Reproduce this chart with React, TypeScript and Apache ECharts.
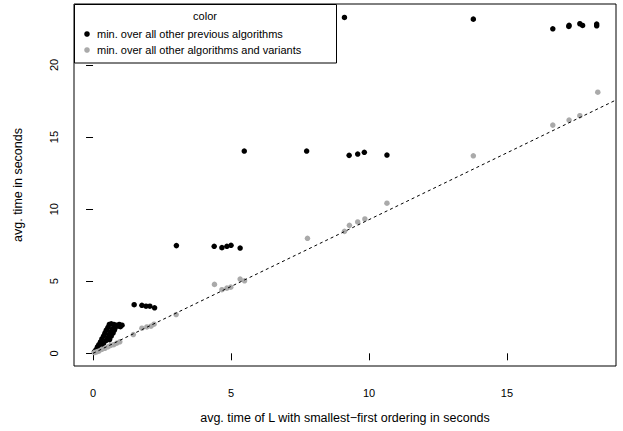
import React, { useEffect, useRef } from "react";
import * as echarts from "echarts";

// min. over all other previous algorithms (black)
const prevX = [
  9.11, 13.78, 16.66, 17.24, 17.25, 17.64, 17.74, 18.25, 18.25,
  5.48, 7.74, 9.28, 9.59, 9.83, 10.65,
  3.02, 4.39, 4.67, 4.85, 5.0, 5.33,
  1.49, 1.77, 1.92, 2.06, 2.23,
  0.05, 0.11, 0.16, 0.21, 0.27, 0.32, 0.38, 0.43, 0.48, 0.54, 0.59, 0.66, 0.75, 0.84, 0.91, 0.99,
  0.48, 0.54, 0.59, 0.64, 0.7, 0.77, 0.38, 0.32,
  0.66, 0.72, 0.8, 0.95, 1.05, 0.6,
];
const prevY = [
  23.3, 23.18, 22.51, 22.67, 22.75, 22.86, 22.74, 22.84, 22.72,
  14.03, 14.03, 13.73, 13.82, 13.94, 13.75,
  7.47, 7.42, 7.33, 7.42, 7.49, 7.3,
  3.37, 3.33, 3.27, 3.27, 3.16,
  0.1, 0.25, 0.45, 0.6, 0.8, 1.0, 1.2, 1.4, 1.6, 1.8, 2.0, 2.05, 2.0, 1.95, 1.9, 1.85,
  0.9, 1.1, 1.3, 1.5, 1.7, 1.6, 0.7, 0.5,
  1.2, 1.4, 1.75, 2.0, 1.95, 0.95,
];

// min. over all other algorithms and variants (grey)
const variantX = [
  18.29, 16.66, 17.25, 17.64, 13.78, 10.65, 7.77, 9.11, 9.29, 9.59, 9.85,
  4.4, 4.67, 4.85, 4.99, 5.33, 5.49, 3.01,
  1.46, 1.77, 1.95, 2.1, 2.21,
  0.05, 0.13, 0.21, 0.32, 0.43, 0.54, 0.64, 0.75, 0.86, 0.97,
];
const variantY = [
  18.11, 15.83, 16.18, 16.48, 13.7, 10.41, 7.98, 8.46, 8.88, 9.11, 9.32,
  4.78, 4.41, 4.52, 4.59, 5.15, 5.03, 2.69,
  1.3, 1.74, 1.83, 1.88, 2.02,
  0.05, 0.1, 0.15, 0.28, 0.35, 0.45, 0.55, 0.6, 0.7, 0.8,
];

const xTicks = [0, 5, 10, 15];
const yTicks = [0, 5, 10, 15, 20];
const refLine = [
  [0, 0],
  [18.95, 17.57],
];

const seriesNames = [
  "min. over all other previous algorithms",
  "min. over all other algorithms and variants",
];
const legendTitle = "color";
const xTitle = "avg. time of L with smallest\u2212first ordering in seconds";
const yTitle = "avg. time in seconds";

const FONT = "Liberation Sans, Arial, Helvetica, sans-serif";

export default function App() {
  const ref = useRef<HTMLDivElement>(null);
  useEffect(() => {
    const chart = echarts.init(ref.current!, null, { renderer: "svg" });
    const zip = (xs: number[], ys: number[]) => xs.map((x, i) => [x, ys[i]]);
    chart.setOption({
      animation: false,
      backgroundColor: "#ffffff",
      grid: {
        left: 74,
        top: 4,
        width: 542,
        height: 362,
        show: true,
        borderColor: "#000",
        borderWidth: 1,
        backgroundColor: "transparent",
      },
      xAxis: {
        type: "value",
        min: -0.69,
        max: 18.95,
        axisLine: { show: false },
        splitLine: { show: false },
        axisTick: {
          show: true,
          customValues: xTicks,
          length: 7,
          lineStyle: { color: "#000", width: 1 },
        },
        axisLabel: {
          customValues: xTicks,
          margin: 21,
          fontSize: 11,
          color: "#000",
          fontFamily: FONT,
        },
      },
      yAxis: {
        type: "value",
        min: -0.88,
        max: 24.23,
        axisLine: { show: false },
        splitLine: { show: false },
        axisTick: {
          show: true,
          customValues: yTicks,
          length: 7,
          lineStyle: { color: "#000", width: 1 },
        },
        axisLabel: {
          customValues: yTicks,
          rotate: 90,
          margin: 15,
          fontSize: 11,
          color: "#000",
          fontFamily: FONT,
        },
      },
      series: [
        {
          name: seriesNames[0],
          type: "scatter",
          data: zip(prevX, prevY),
          symbol: "circle",
          symbolSize: 5.5,
          itemStyle: { color: "#000000", opacity: 1 },
          z: 2,
        },
        {
          name: seriesNames[1],
          type: "scatter",
          data: zip(variantX, variantY),
          symbol: "circle",
          symbolSize: 5.5,
          itemStyle: { color: "#aaaaaa", opacity: 1 },
          z: 2,
        },
        {
          type: "line",
          data: refLine,
          symbol: "none",
          lineStyle: { color: "#000", width: 1, type: [3, 3] },
          clip: true,
          z: 3,
          silent: true,
        },
      ],
      graphic: [
        {
          type: "rect",
          shape: { x: 74.5, y: 4.5, width: 262, height: 58.5 },
          style: { fill: "#fff", stroke: "#000", lineWidth: 1 },
          z: 10,
        },
        {
          type: "text",
          x: 205,
          y: 16,
          style: {
            text: legendTitle,
            fontSize: 11,
            fontFamily: FONT,
            fill: "#000",
            align: "center",
            verticalAlign: "middle",
          },
          z: 11,
        },
        {
          type: "circle",
          shape: { cx: 87, cy: 34, r: 2.8 },
          style: { fill: "#000" },
          z: 11,
        },
        {
          type: "text",
          x: 97,
          y: 34,
          style: {
            text: seriesNames[0],
            fontSize: 11,
            fontFamily: FONT,
            fill: "#000",
            align: "left",
            verticalAlign: "middle",
          },
          z: 11,
        },
        {
          type: "circle",
          shape: { cx: 87, cy: 50, r: 2.8 },
          style: { fill: "#aaaaaa" },
          z: 11,
        },
        {
          type: "text",
          x: 97,
          y: 50,
          style: {
            text: seriesNames[1],
            fontSize: 11,
            fontFamily: FONT,
            fill: "#000",
            align: "left",
            verticalAlign: "middle",
          },
          z: 11,
        },
        {
          type: "text",
          x: 345,
          y: 418,
          style: {
            text: xTitle,
            fontSize: 12.5,
            fontFamily: FONT,
            fill: "#000",
            align: "center",
            verticalAlign: "middle",
          },
        },
        {
          type: "text",
          x: 18,
          y: 185,
          rotation: Math.PI / 2,
          style: {
            text: yTitle,
            fontSize: 12.5,
            fontFamily: FONT,
            fill: "#000",
            align: "center",
            verticalAlign: "middle",
          },
        },
      ],
    });
    return () => chart.dispose();
  }, []);
  return (
    <div
      ref={ref}
      style={{ position: "fixed", left: 0, top: 0, width: 623, height: 431 }}
    />
  );
}
